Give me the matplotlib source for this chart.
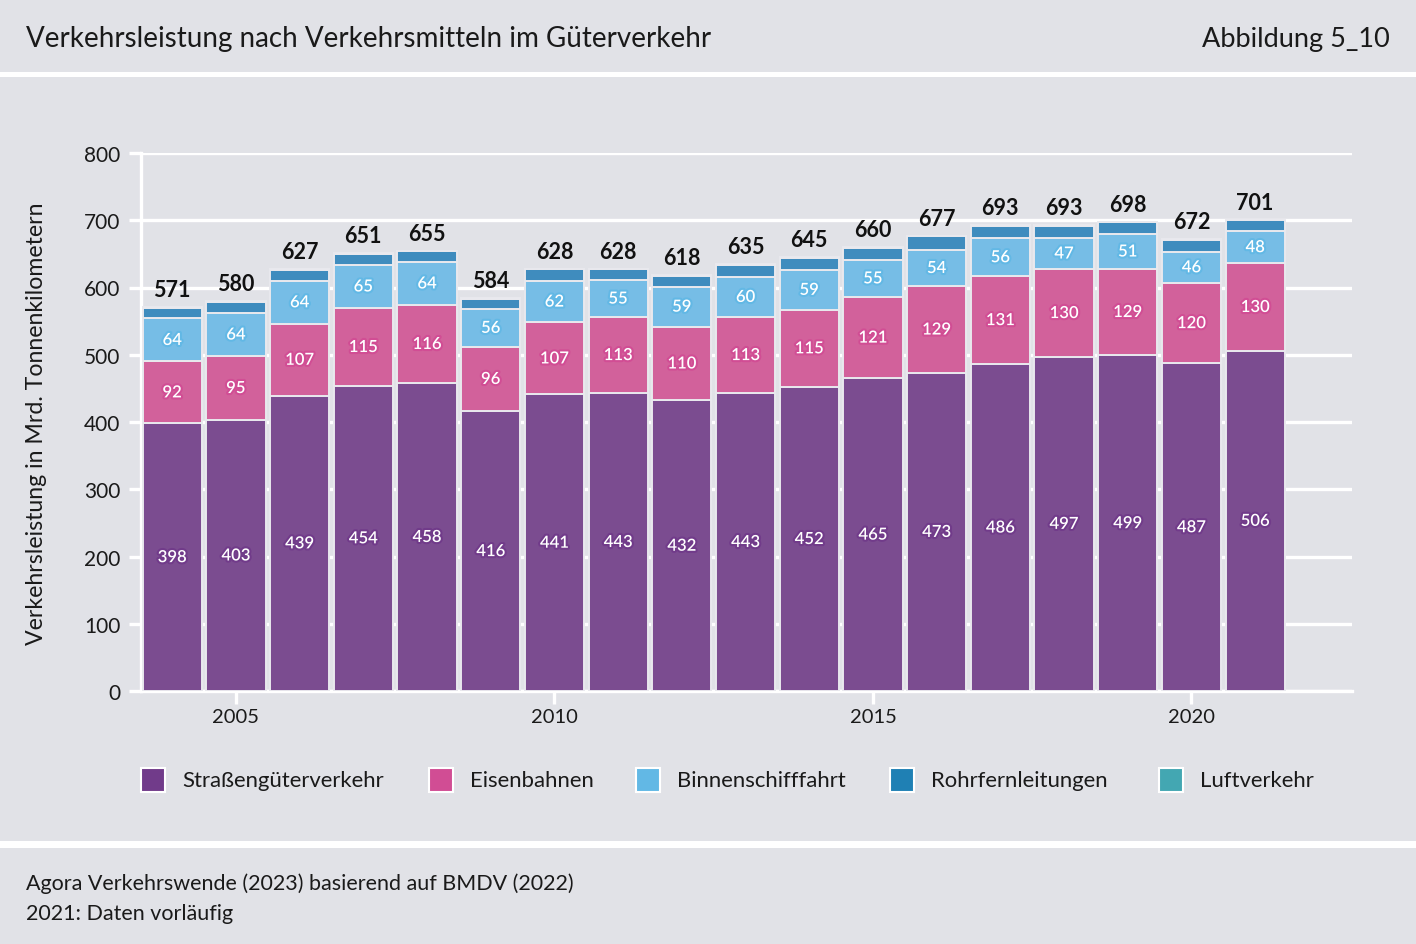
import matplotlib
matplotlib.use("Agg")
import matplotlib.pyplot as plt
import matplotlib.patheffects as pe
from matplotlib.patches import Rectangle
import numpy as np

years = list(range(2004, 2022))
road = [398, 403, 439, 454, 458, 416, 441, 443, 432, 443, 452, 465, 473, 486, 497, 499, 487, 506]
rail = [92, 95, 107, 115, 116, 96, 107, 113, 110, 113, 115, 121, 129, 131, 130, 129, 120, 130]
inland = [64, 64, 64, 65, 64, 56, 62, 55, 59, 60, 59, 55, 54, 56, 47, 51, 46, 48]
pipe = [16, 17, 16, 16, 16, 15, 17, 16, 16, 18, 18, 18, 20, 19, 18, 18, 18, 16]
air = [1, 1, 1, 1, 1, 1, 1, 1, 1, 1, 1, 1, 1, 1, 1, 1, 1, 1]
totals = [571, 580, 627, 651, 655, 584, 628, 628, 618, 635, 645, 660, 677, 693, 693, 698, 672, 701]

series_names = ["Straßengüterverkehr", "Eisenbahnen", "Binnenschifffahrt", "Rohrfernleitungen", "Luftverkehr"]
series_vals = [road, rail, inland, pipe, air]
bar_colors = ["#7b4c90", "#d2619b", "#76bde6", "#3f8cbe", "#5bb7bc"]
leg_colors = ["#713b8a", "#d14d94", "#62b8e5", "#1f80b4", "#43a7b2"]
show_labels = [True, True, True, False, False]

BG = "#e1e2e7"
FONT = "Lato"
plt.rcParams["font.family"] = [FONT, "DejaVu Sans"]

W, H = 1416, 945
fig = plt.figure(figsize=(W / 100, H / 100), dpi=100)
fig.patch.set_facecolor(BG)

# white separator bands
for y0, y1 in [(73, 78), (842, 849)]:
    fig.patches.append(Rectangle((0, 1 - y1 / H), 1, (y1 - y0) / H, transform=fig.transFigure,
                                 facecolor="white", edgecolor="none", zorder=0))

fig.text(26 / W, 1 - 39 / H, "Verkehrsleistung nach Verkehrsmitteln im Güterverkehr",
         fontsize=20, ha="left", va="center", color="#1a1a1a")
fig.text(1390 / W, 1 - 39 / H, "Abbildung 5_10", fontsize=19.5, ha="right", va="center", color="#1a1a1a")
fig.text(26 / W, 1 - 884 / H, "Agora Verkehrswende (2023) basierend auf BMDV (2022)",
         fontsize=15.5, ha="left", va="center", color="#1a1a1a")
fig.text(26 / W, 1 - 914 / H, "2021: Daten vorläufig", fontsize=15.5, ha="left", va="center", color="#1a1a1a")

ax_l, ax_r = 141 / W, 1352 / W
ax_b, ax_t = 1 - 692 / H, 1 - 154 / H
ax = fig.add_axes([ax_l, ax_b, ax_r - ax_l, ax_t - ax_b])
ax.set_facecolor(BG)
ax.set_xlim(2003.51, 2022.52)
ax.set_ylim(0, 800)

ax.set_yticks(range(0, 801, 100))
ax.set_xticks([2005, 2010, 2015, 2020])
ax.grid(axis="y", color="white", linewidth=2.4, zorder=0)
ax.set_axisbelow(True)
for s in ["top", "right"]:
    ax.spines[s].set_visible(False)
for s in ["left", "bottom"]:
    ax.spines[s].set_color("white")
    ax.spines[s].set_linewidth(2.4)
    ax.spines[s].set_zorder(1)
ax.tick_params(axis="both", colors="white", width=2.4, length=9, labelcolor="#1a1a1a")
ax.tick_params(axis="y", labelsize=15, pad=6)
ax.tick_params(axis="x", labelsize=14.5, pad=3)

bottom = np.zeros(len(years))
x = np.array(years)
for name, vals, bc, lc, show in zip(series_names, series_vals, bar_colors, leg_colors, show_labels):
    v = np.array(vals, dtype=float)
    ax.bar(x, v, bottom=bottom, width=0.93, color=bc, edgecolor="#e9e9ee", linewidth=1.4, zorder=2)
    if show:
        for xi, b, vi in zip(x, bottom, v):
            t = ax.text(xi, b + vi / 2, f"{int(vi)}", ha="center", va="center", color="white",
                        fontsize=12, fontweight="semibold", zorder=4)
            t.set_path_effects([pe.withStroke(linewidth=3, foreground=lc)])
    bottom += v

for xi, tot in zip(x, totals):
    ax.annotate(f"{tot}", (xi, tot), xytext=(0, 5), textcoords="offset points",
                ha="center", va="bottom", fontsize=15.5, fontweight="bold", color="#111111", zorder=5)

fig.text(37 / W, 1 - 424 / H, "Verkehrsleistung in Mrd. Tonnenkilometern", rotation=90,
         fontsize=16.7, ha="center", va="center", color="#1a1a1a")

# legend
leg_sq = [153, 441, 648, 902, 1171]
sq = 24
for cx, name, lc in zip(leg_sq, series_names, leg_colors):
    fig.patches.append(Rectangle(((cx - sq / 2) / W, 1 - (781 + sq / 2) / H), sq / W, sq / H,
                                 transform=fig.transFigure, facecolor=lc, edgecolor="white",
                                 linewidth=1.5, zorder=3))
    fig.text((cx + 29) / W, 1 - 781 / H, name, fontsize=15.9, ha="left", va="center", color="#1a1a1a")

fig.savefig("out.png", dpi=100, facecolor=BG)
